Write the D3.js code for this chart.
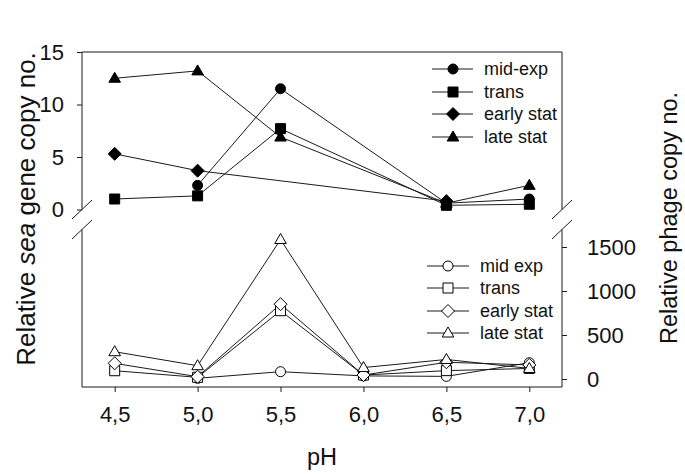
<!DOCTYPE html>
<html>
<head>
<meta charset="utf-8">
<script src="https://cdn.jsdelivr.net/npm/d3@7"></script>
<style>
  html, body { margin: 0; padding: 0; background: #fff; }
  svg { display: block; font-family: "Liberation Sans", Arial, sans-serif; }
</style>
</head>
<body>
<svg id="chart" width="685" height="474"></svg>
<script>
// ---- data ----
const pH = [4.5, 5.0, 5.5, 6.0, 6.5, 7.0];
const xTickLabels = ["4,5", "5,0", "5,5", "6,0", "6,5", "7,0"];

// top panel: relative sea gene copy no. (null = no measurement)
const seaMidExp    = [null, 2.3, 11.5, null, 0.6, 1.0];
const seaTrans     = [1.0, 1.3, 7.7, null, 0.4, 0.5];
const seaEarlyStat = [5.3, 3.7, null, null, 0.8, null];
const seaLateStat  = [12.5, 13.2, 6.9, null, 0.6, 2.3];
const seaTicks = [0, 5, 10, 15];

// bottom panel: relative phage copy no.
const phageMidExp    = [null, 8, 83, 35, 30, 185];
const phageTrans     = [94, 19, 776, 45, 95, 120];
const phageEarlyStat = [178, 26, 850, 45, 190, 160];
const phageLateStat  = [310, 151, 1585, 130, 222, 120];
const phageTicks = [0, 500, 1000, 1500];

const topNames = ["mid-exp", "trans", "early stat", "late stat"];
const bottomNames = ["mid exp", "trans", "early stat", "late stat"];
const shapes = ["circle", "square", "diamond", "triangle"];

// ---- layout ----
const svg = d3.select("#chart");
const font = '"Liberation Sans", Arial, sans-serif';
const left = 82, right = 562;

const x = d3.scaleLinear().domain([4.3, 7.2]).range([81.5, 562.5]);
const yTop = d3.scaleLinear().domain([0, 15]).range([209.5, 52]);
const yBot = d3.scaleLinear().domain([0, 1500]).range([379, 247]);
const botTop = 229.5, botBottom = 387;

function symbolPath(type) {
  switch (type) {
    case "circle": return "M5,0A5,5 0 1,1 -5,0A5,5 0 1,1 5,0Z";
    case "square": return "M-5,-5L5,-5L5,5L-5,5Z";
    case "diamond": return "M0,-6.5L6.5,0L0,6.5L-6.5,0Z";
    case "triangle": return "M0,-6L5.8,4L-5.8,4Z";
  }
}

const g = svg.append("g");
const stroke = "#1a1a1a";

// frame lines
const frame = g.append("g").attr("stroke", stroke).attr("stroke-width", 1).attr("fill", "none");
frame.append("path").attr("d", `M${left},${yTop(0)}V${yTop(15)}H${right}V${yTop(0)}`);
frame.append("path").attr("d", `M${left},${botTop}V${botBottom}H${right}V${botTop}`);
[left, right].forEach(cx => {
  [yTop(0), botTop].forEach(cy => {
    frame.append("line")
      .attr("x1", cx - 10).attr("y1", cy + 9.5)
      .attr("x2", cx + 10).attr("y2", cy - 9.5);
  });
});

// axes
const axLeft = d3.axisLeft(yTop).tickValues(seaTicks).tickSize(5).tickPadding(13).tickFormat(d3.format("d"));
const gL = g.append("g").attr("transform", `translate(${left},0)`).call(axLeft);
const axRight = d3.axisRight(yBot).tickValues(phageTicks).tickSize(5).tickPadding(20).tickFormat(d3.format("d"));
const gR = g.append("g").attr("transform", `translate(${right},0)`).call(axRight);
const axBottom = d3.axisBottom(x).tickValues(pH).tickSize(5).tickPadding(10).tickFormat((d, i) => xTickLabels[i]);
const gB = g.append("g").attr("transform", `translate(0,${botBottom})`).call(axBottom);
[gL, gR, gB].forEach(a => {
  a.select(".domain").remove();
  a.selectAll("line").attr("stroke", stroke);
  a.selectAll("text").attr("font-family", font).attr("font-size", 22).attr("fill", "#111");
});
gB.selectAll("text").attr("dy", "0.9em");

// axis titles
const tl = svg.append("text")
  .attr("transform", "translate(35,209) rotate(-90)")
  .attr("text-anchor", "middle").attr("font-family", font).attr("font-size", 26).attr("fill", "#111");
tl.append("tspan").text("Relative ");
tl.append("tspan").attr("font-style", "italic").text("sea");
tl.append("tspan").text(" gene copy no.");

svg.append("text")
  .attr("transform", "translate(677,218) rotate(-90)")
  .attr("text-anchor", "middle").attr("font-family", font).attr("font-size", 23.5).attr("fill", "#111")
  .text("Relative phage copy no.");

svg.append("text")
  .attr("x", 322).attr("y", 465)
  .attr("text-anchor", "middle").attr("font-family", font).attr("font-size", 23.5).attr("fill", "#111")
  .text("pH");

// series drawing
function drawPanel(seriesList, yScale, filled) {
  const line = d3.line().x(d => x(d[0])).y(d => yScale(d[1]));
  seriesList.forEach((vals) => {
    const pts = pH.map((p, i) => [p, vals[i]]).filter(d => d[1] !== null);
    g.append("path").datum(pts).attr("d", line)
      .attr("fill", "none").attr("stroke", stroke).attr("stroke-width", 1);
  });
  seriesList.forEach((vals, si) => {
    const pts = pH.map((p, i) => [p, vals[i]]).filter(d => d[1] !== null);
    g.selectAll(null).data(pts).enter().append("path")
      .attr("d", symbolPath(shapes[si]))
      .attr("transform", d => `translate(${x(d[0])},${yScale(d[1])})`)
      .attr("fill", filled ? "#000" : "#fff")
      .attr("stroke", "#000").attr("stroke-width", 1);
  });
}
drawPanel([seaMidExp, seaTrans, seaEarlyStat, seaLateStat], yTop, true);
drawPanel([phageMidExp, phageTrans, phageEarlyStat, phageLateStat], yBot, false);

// legends
function drawLegend(names, x0, x1, xs, xt, ys, filled) {
  names.forEach((name, i) => {
    const lg = g.append("g");
    lg.append("line").attr("x1", x0).attr("x2", x1).attr("y1", ys[i]).attr("y2", ys[i])
      .attr("stroke", stroke).attr("stroke-width", 1);
    lg.append("path").attr("d", symbolPath(shapes[i]))
      .attr("transform", `translate(${xs},${ys[i]})`)
      .attr("fill", filled ? "#000" : "#fff").attr("stroke", "#000");
    lg.append("text").attr("x", xt).attr("y", ys[i]).attr("dy", "0.36em")
      .attr("font-family", font).attr("font-size", 18).attr("fill", "#111").text(name);
  });
}
drawLegend(topNames, 432, 473, 453, 484, [69, 92, 114, 137], true);
drawLegend(bottomNames, 427, 469, 448, 480, [266, 288, 311, 333], false);
</script>
</body>
</html>
